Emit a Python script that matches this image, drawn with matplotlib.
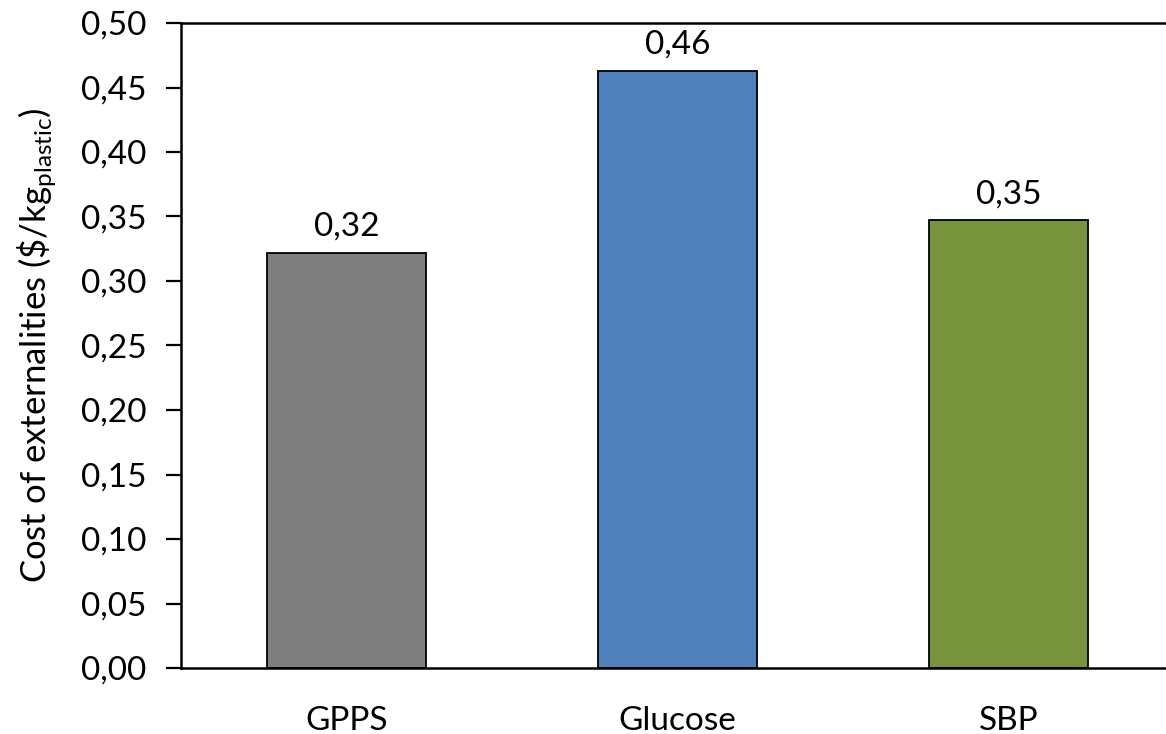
import matplotlib.pyplot as plt
from matplotlib.ticker import MultipleLocator, FuncFormatter

plt.rcParams['font.family'] = ['Lato', 'DejaVu Sans']
plt.rcParams['mathtext.fontset'] = 'custom'
plt.rcParams['mathtext.rm'] = 'Lato'

categories = ['GPPS', 'Glucose', 'SBP']
costs = [0.322, 0.463, 0.347]
colors = ['#7f7f7f', '#4f81bd', '#77933c']

fig = plt.figure(figsize=(11.66, 7.34), dpi=100)
ax = fig.add_axes([181 / 1166, 66 / 734, 993 / 1166, 645 / 734])

x = range(len(categories))
bars = ax.bar(x, costs, width=0.48, color=colors, edgecolor='black', linewidth=1.3)

for rect, v in zip(bars, costs):
    ax.annotate('{:.2f}'.format(v).replace('.', ','),
                (rect.get_x() + rect.get_width() / 2, v),
                xytext=(0, 8), textcoords='offset points',
                ha='center', va='bottom', fontsize=24)

ax.set_xlim(-0.5, 2.5)
ax.set_ylim(0, 0.5)
ax.yaxis.set_major_locator(MultipleLocator(0.05))
ax.yaxis.set_major_formatter(FuncFormatter(lambda v, p: '{:.2f}'.format(v).replace('.', ',')))
ax.set_xticks(list(x))
ax.set_xticklabels(categories)

ax.spines['right'].set_visible(False)
for s in ['left', 'bottom', 'top']:
    ax.spines[s].set_linewidth(1.8)

ax.tick_params(axis='y', length=11, width=1.6, direction='out', labelsize=24, pad=14)
ax.tick_params(axis='x', length=0, labelsize=24, pad=27)

ax.set_ylabel('Cost of externalities (\\$/kg$_{\\mathregular{plastic}}$)', fontsize=25, labelpad=16)

fig.savefig('out.png', dpi=100)
